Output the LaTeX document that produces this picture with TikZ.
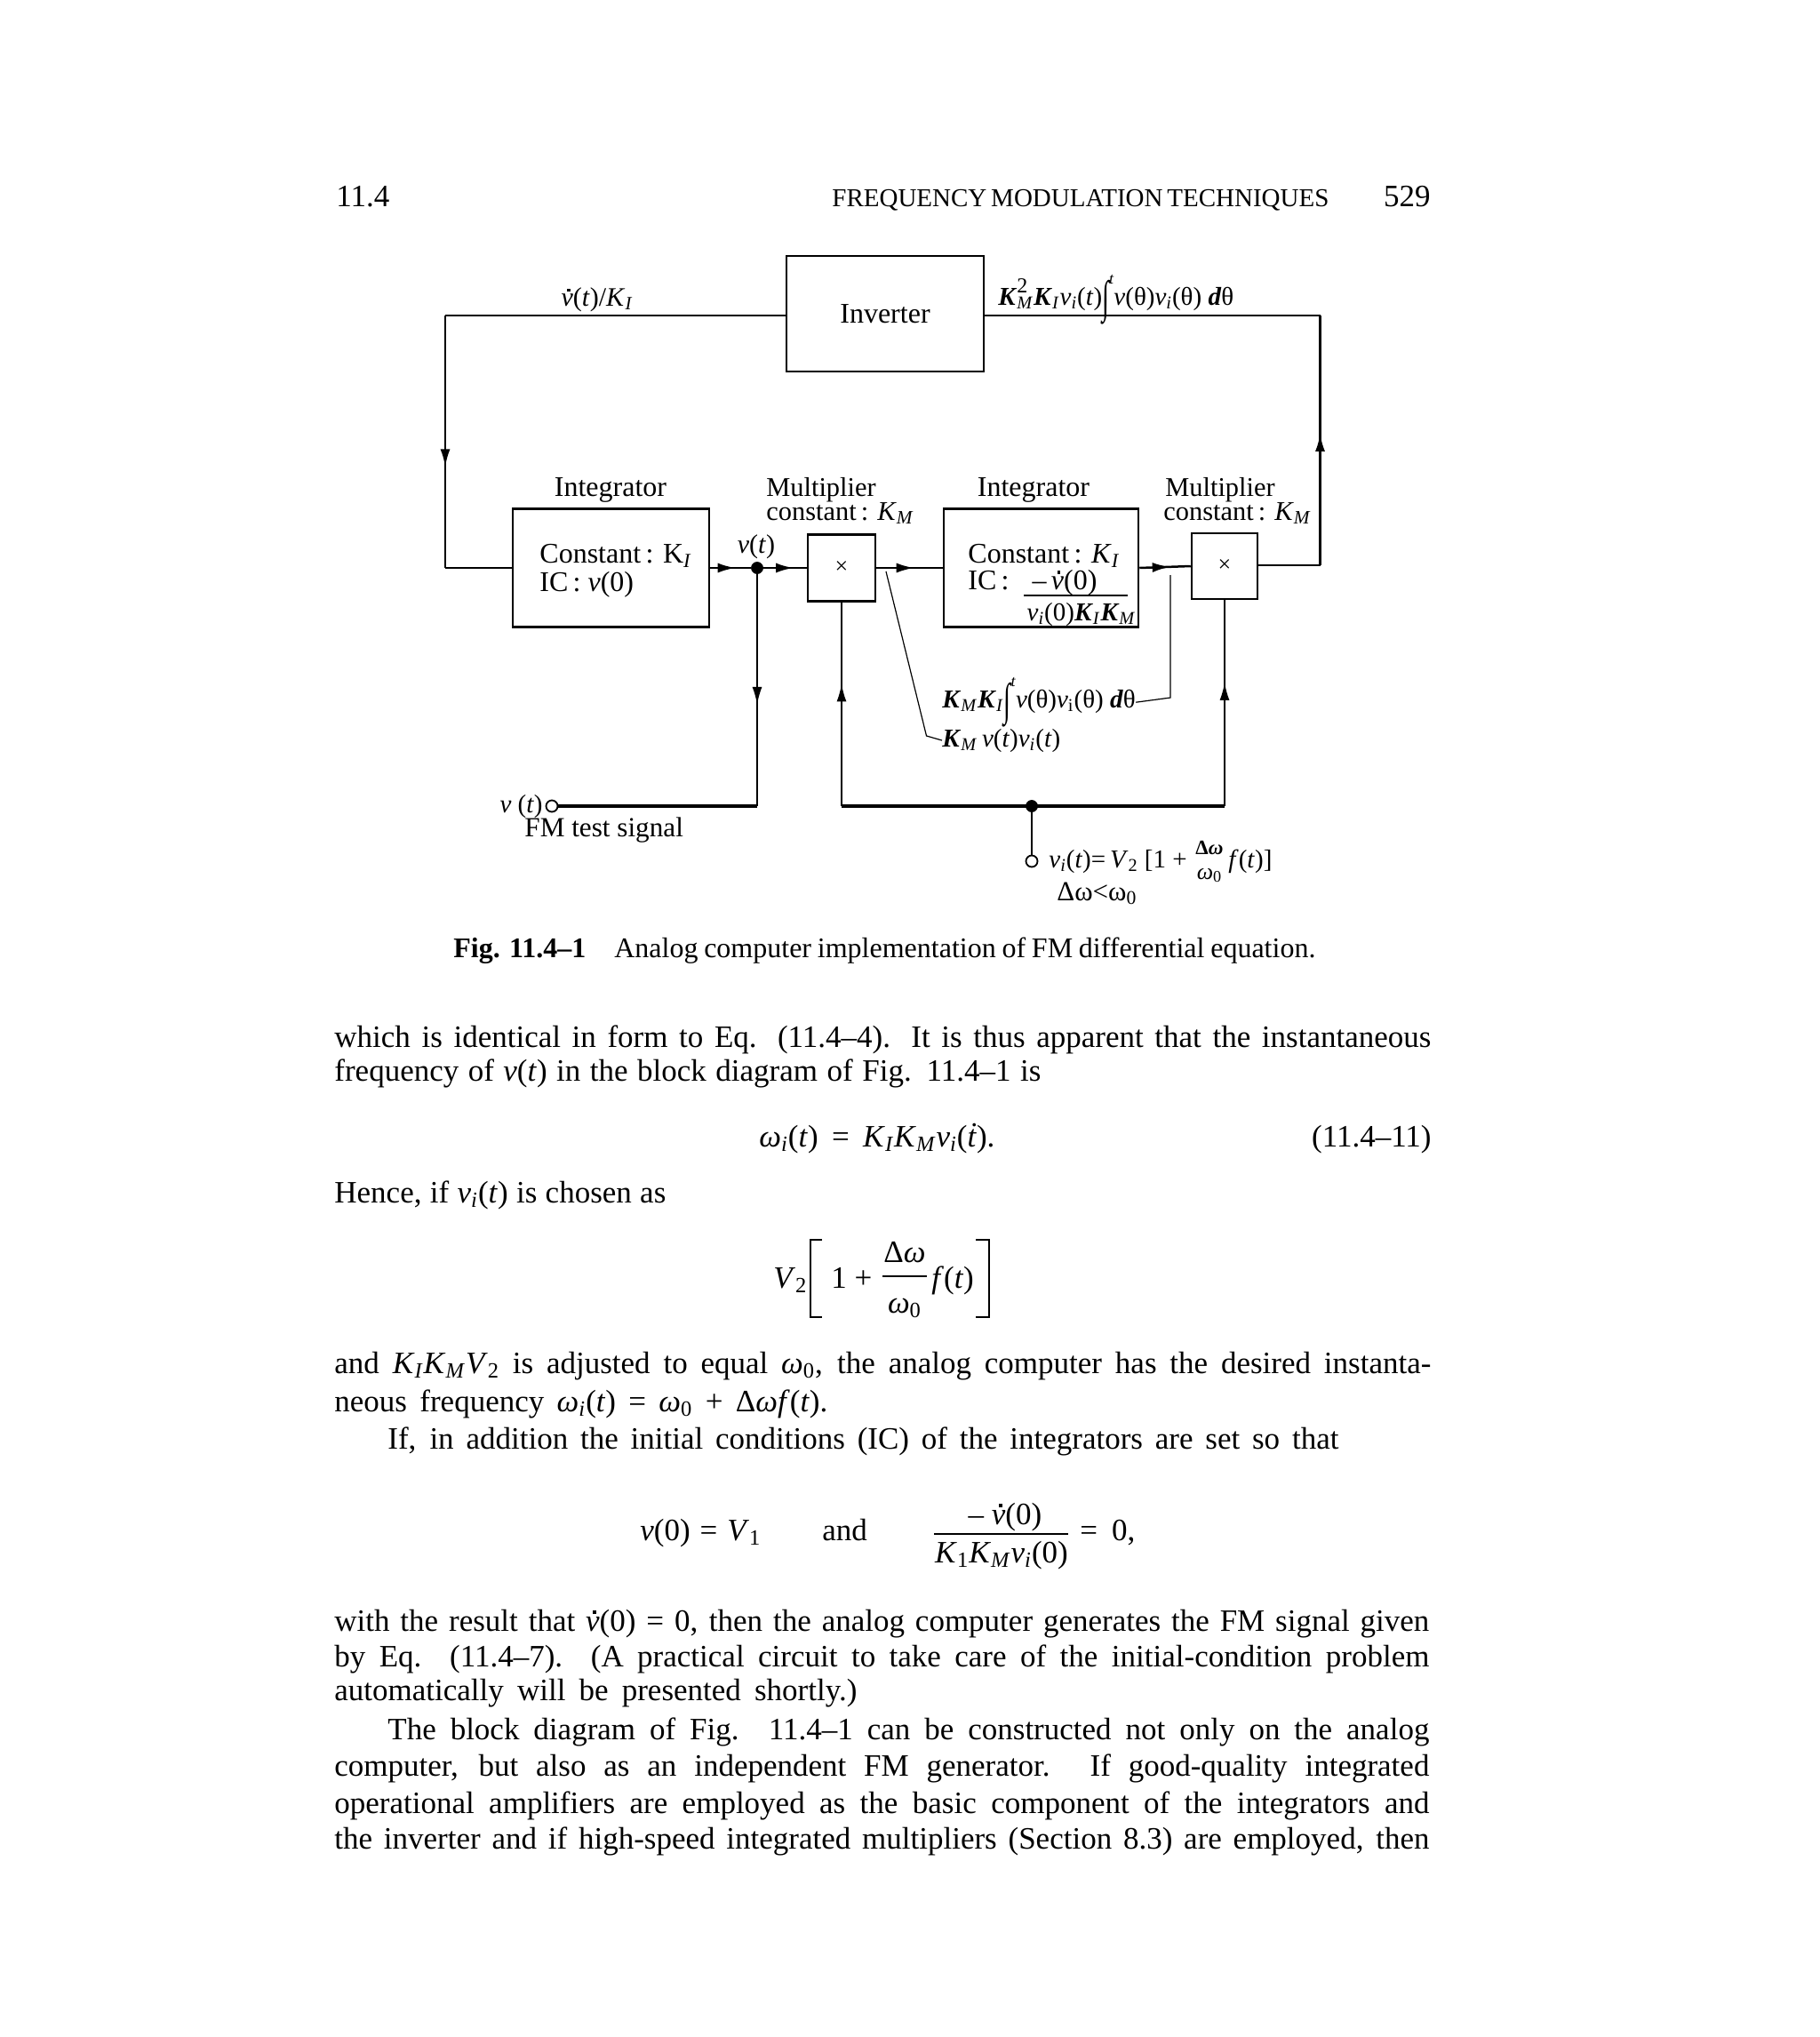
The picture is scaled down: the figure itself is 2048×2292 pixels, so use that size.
\documentclass[tikz,border=0pt]{standalone}
\usepackage{graphicx}
\usepackage{fontspec}
\setmainfont{Liberation Serif}
\usetikzlibrary{arrows.meta,decorations.markings}
\newcommand{\mi}[1]{\textit{#1}}
\newcommand{\lo}[1]{\textsubscript{#1}}
\newcommand{\loi}[1]{\textsubscript{\textit{#1}}}
\newcommand{\vdotted}{\makebox[0pt][l]{\hspace{0.22em}\raisebox{0.54em}{\rule{0.11em}{0.11em}}}\textit{v}}
\newcommand{\intg}{\raisebox{-0.28em}{\scalebox{1}[1.75]{\symbol{"222B}}}}
\newcommand{\bodyline}[5]{\node[bodytext] (#1) at (#2,#3) {\makebox[0.5\dimexpr #4pt\relax][s]{#5}};}
\tikzset{
  x=0.5pt,y=-0.5pt,
  conn/.style={line width=1.25pt,line join=miter},
  thinconn/.style={line width=0.6pt},
  midconn/.style={line width=0.9pt},
  buswire/.style={line width=1.6pt},
  blockbox/.style={draw,line width=1.25pt,inner sep=0pt,minimum width=#1},
  lbl/.style={font=\fontsize{16}{19}\selectfont,inner sep=0pt},
  lblw/.style={lbl,anchor=base west},
  lblc/.style={lbl,anchor=base},
  multlbl/.style={font=\fontsize{15.2}{18}\selectfont,inner sep=0pt,anchor=base west},
  mathlbl/.style={font=\fontsize{14.5}{17}\selectfont,inner sep=0pt,anchor=base west},
  bodytext/.style={font=\fontsize{17.5}{20}\selectfont,inner sep=0pt,anchor=base west},
  dotj/.style={circle,fill=black,draw=black,inner sep=0pt,minimum size=6.5pt},
  term/.style={circle,draw=black,fill=white,line width=0.9pt,inner sep=0pt,minimum size=6.5pt},
  arrowat/.style={postaction={decorate},decoration={markings,mark=at position #1 with {\arrow{Latex[length=10pt,width=5.5pt]}}}},
}
\begin{document}
\begin{tikzpicture}
\useasboundingbox (0,0) rectangle (2048,2292);
\fill[white] (0,0) rectangle (2048,2292);

% header
\node[bodytext] (hA) at (378,232) {11.4};
\node[bodytext] (hB) at (936,232) {\makebox[278.5pt][s]{\fontsize{14.5}{16}\selectfont FREQUENCY MODULATION TECHNIQUES}};
\node[bodytext,anchor=base east] (hC) at (1610,232) {529};

% blocks
\node[blockbox=111pt,minimum height=65pt] (inv) at (996,353) {};
\node[lbl] (invt) at (inv) {Inverter};
\node[blockbox=110.5pt,minimum height=66.5pt] (int1) at (687.5,639) {};
\node[blockbox=38pt,minimum height=37.5pt] (m1) at (947,639) {};
\node[blockbox=109.5pt,minimum height=66.5pt] (int2) at (1171.5,639) {};
\node[blockbox=37pt,minimum height=37pt] (m2) at (1378,637) {};
\node[lbl,font=\fontsize{13}{14}\selectfont] (xa) at (m1) {×};
\node[lbl,font=\fontsize{13}{14}\selectfont] (xb) at (m2) {×};

% terminals and junctions
\node[dotj] (j1) at (852,639) {};
\node[dotj] (j2) at (1161,907) {};
\node[term] (in1) at (621,907) {};
\node[term] (out1) at (1161,969) {};
\coordinate (tl) at (501,355);
\coordinate (bl) at (501,639);
\coordinate (tr) at (1485.5,355);
\coordinate (br) at (1485.5,636);
\coordinate (c1) at (852,907);
\coordinate (tapa) at (997,643);
\coordinate (bendA) at (1042.5,828);
\coordinate (tapb) at (1317,647);
\coordinate (bendB) at (1317,785);

% diagram labels
\node[lblc,font=\fontsize{15}{17}\selectfont] (l1) at (672,344) {\vdotted(\mi{t})/\mi{K}\loi{I}};
\node[mathlbl] (l2) at (1123,343) {\textbf{\mi{K}}\raisebox{0.45em}{\makebox[0pt][l]{\fontsize{12}{14}\selectfont 2}}\loi{M}\textbf{\mi{K}}\loi{I}\mi{v}\lo{\mi{i}}(\mi{t})\intg\raisebox{0.8em}{\fontsize{9}{10}\selectfont\mi{t}}\mi{v}(θ)\mi{v}\loi{i}(θ) \textbf{\mi{d}}θ};
\node[lblc] (l3) at (687,558) {Integrator};
\node[multlbl] (l4) at (862,558) {Multiplier};
\node[multlbl] (l5) at (862,585) {constant\,: \mi{K}\loi{M}};
\node[lblc] (l6) at (1163,558) {Integrator};
\node[multlbl] (l7) at (1311,558) {Multiplier};
\node[multlbl] (l8) at (1309,585) {constant\,: \mi{K}\loi{M}};
\node[lblw] (l9) at (607,633) {Constant\,: K\loi{I}};
\node[lblw] (l10) at (607,665) {IC\,: \mi{v}(0)};
\node[lblc,font=\fontsize{15}{17}\selectfont] (l11) at (851,622) {\mi{v}(\mi{t})};
\node[lblw] (l12) at (1089,633) {Constant\,: \mi{K}\loi{I}};
\node[lblw] (l13) at (1089,663) {IC\,:};
\node[lblc] (l14) at (1198,663) {–\,\vdotted(0)};
\node[mathlbl,anchor=base] (l15) at (1217,698) {\mi{v}\loi{i}(0)\textbf{\mi{K}}\loi{I}\textbf{\mi{K}}\loi{M}};
\node[mathlbl] (l16) at (1060,796) {\textbf{\mi{K}}\loi{M}\textbf{\mi{K}}\loi{I}\intg\raisebox{0.8em}{\fontsize{9}{10}\selectfont\mi{t}}\mi{v}(θ)\mi{v}\lo{i}(θ) \textbf{\mi{d}}θ};
\node[mathlbl] (l17) at (1060,840) {\textbf{\mi{K}}\loi{M}\,\mi{v}(\mi{t})\mi{v}\loi{i}(\mi{t})};
\node[mathlbl,anchor=base east] (l18) at (611,914) {\mi{v} (\mi{t})};
\node[lblw,font=\fontsize{15.6}{18}\selectfont] (l19) at (590,941) {FM test signal};
\node[mathlbl] (l20) at (1180,976) {\mi{v}\loi{i}(\mi{t})=\,\mi{V}\lo{2} [1 +};
\node[lblc,font=\fontsize{11.5}{13}\selectfont\bfseries] (l21) at (1361,961) {Δ\mi{ω}};
\node[lblc,font=\fontsize{13}{15}\selectfont] (l22) at (1361,989) {\mi{ω}\lo{0}};
\node[mathlbl] (l23) at (1382,976) {\mi{f}(\mi{t})]};
\node[lblw,font=\fontsize{15.5}{18}\selectfont] (l24) at (1189,1013) {Δω<ω\lo{0}};

% caption
\node[bodytext,font=\fontsize{16}{18}\selectfont] (cap) at (510,1077) {\makebox[485pt][s]{\textbf{Fig. 11.4–1}\quad Analog computer implementation of FM differential equation.}};

% connectors
\draw[conn] (inv.west |- tl) -- (tl);
\draw[conn,arrowat=.6] (tl) -- (bl);
\draw[conn] (bl) -- (int1.west);
\draw[conn,arrowat=.62] (int1.east) -- (j1);
\draw[conn,arrowat=.7] (j1) -- (m1.west);
\draw[conn,arrowat=.57] (m1.east) -- (int2.west);
\draw[conn,arrowat=.6] (int2.east) -- (m2.west);
\draw[conn] (m2.east |- br) -- (br);
\draw[conn,arrowat=.527] (br) -- (tr);
\draw[conn] (tr) -- (inv.east |- tr);
\draw[midconn,arrowat=.563] (j1) -- (c1);
\draw[buswire] (c1) -- (in1.east);
\draw[buswire] (m1.south |- j2) -- (m2.south |- j2);
\draw[midconn,arrowat=.6] (m1.south |- j2) -- (m1.south);
\draw[midconn,arrowat=.6] (m2.south |- j2) -- (m2.south);
\draw[midconn] (j2) -- (out1.north);
\draw[thinconn] (tapa) -- (bendA) -- (l17.west);
\draw[thinconn] (tapb) -- (bendB) -- (l16.east);
\draw[thinconn] (1152,670) -- (1269,670);

% body text
\bodyline{b1}{376}{1178}{1234}{which is identical in form to Eq. (11.4–4). It is thus apparent that the instantaneous}
\bodyline{b2}{376}{1216}{795}{frequency of \mi{v}(\mi{t}) in the block diagram of Fig. 11.4–1 is}
\bodyline{e1}{854}{1290}{265}{\mi{ω}\loi{i}(\mi{t}) = \mi{K}\loi{I}\mi{K}\loi{M}\mi{v}\loi{i}(\mi{\.t}).}
\node[bodytext,anchor=base east] (e1n) at (1611,1290) {(11.4–11)};
\bodyline{b3}{376}{1353}{373}{Hence, if \mi{v}\loi{i}(\mi{t}) is chosen as}
\node[bodytext] (e2a) at (870,1449) {\mi{V}\lo{2}};
\node[bodytext] (e2b) at (935,1449) {1 +};
\node[bodytext,anchor=base] (e2c) at (1018,1420) {Δ\mi{ω}};
\node[bodytext,anchor=base] (e2d) at (1018,1477) {\mi{ω}\lo{0}};
\node[bodytext] (e2e) at (1048,1449) {\mi{f}(\mi{t})};
\draw[midconn] (993,1436) -- (1043,1436);
\draw[conn] (925,1395) -- (912,1395) -- (912,1482) -- (925,1482);
\draw[conn] (1098,1395) -- (1113,1395) -- (1113,1482) -- (1098,1482);
\bodyline{b4}{376}{1545}{1234}{and \mi{K}\loi{I}\mi{K}\loi{M}\mi{V}\lo{2} is adjusted to equal \mi{ω}\lo{0}, the analog computer has the desired instanta-}
\bodyline{b5}{376}{1588}{555}{neous frequency \mi{ω}\loi{i}(\mi{t}) = \mi{ω}\lo{0} + Δ\mi{ω}\mi{f}(\mi{t}).}
\bodyline{b6}{436}{1630}{1070}{If, in addition the initial conditions (IC) of the integrators are set so that}
\bodyline{e3a}{720}{1733}{136}{\mi{v}(0) = \mi{V}\lo{1}}
\node[bodytext] (e3b) at (925,1733) {and};
\node[bodytext,anchor=base] (e3c) at (1131,1715) {– \vdotted(0)};
\node[bodytext,anchor=base] (e3d) at (1127,1758) {\mi{K}\lo{1}\mi{K}\loi{M}\mi{v}\loi{i}(0)};
\draw[midconn] (1051,1726) -- (1202,1726);
\bodyline{e3e}{1215}{1733}{62}{= 0,}
\bodyline{b7}{376}{1835}{1232}{with the result that \vdotted(0) = 0, then the analog computer generates the FM signal given}
\bodyline{b8}{376}{1875}{1232}{by Eq. (11.4–7). (A practical circuit to take care of the initial-condition problem}
\bodyline{b9}{376}{1913}{588}{automatically will be presented shortly.)}
\bodyline{b10}{436}{1957}{1172}{The block diagram of Fig. 11.4–1 can be constructed not only on the analog}
\bodyline{b11}{376}{1998}{1232}{computer, but also as an independent FM generator. If good-quality integrated}
\bodyline{b12}{376}{2040}{1232}{operational amplifiers are employed as the basic component of the integrators and}
\bodyline{b13}{376}{2080}{1232}{the inverter and if high-speed integrated multipliers (Section 8.3) are employed, then}
\end{tikzpicture}
\end{document}
